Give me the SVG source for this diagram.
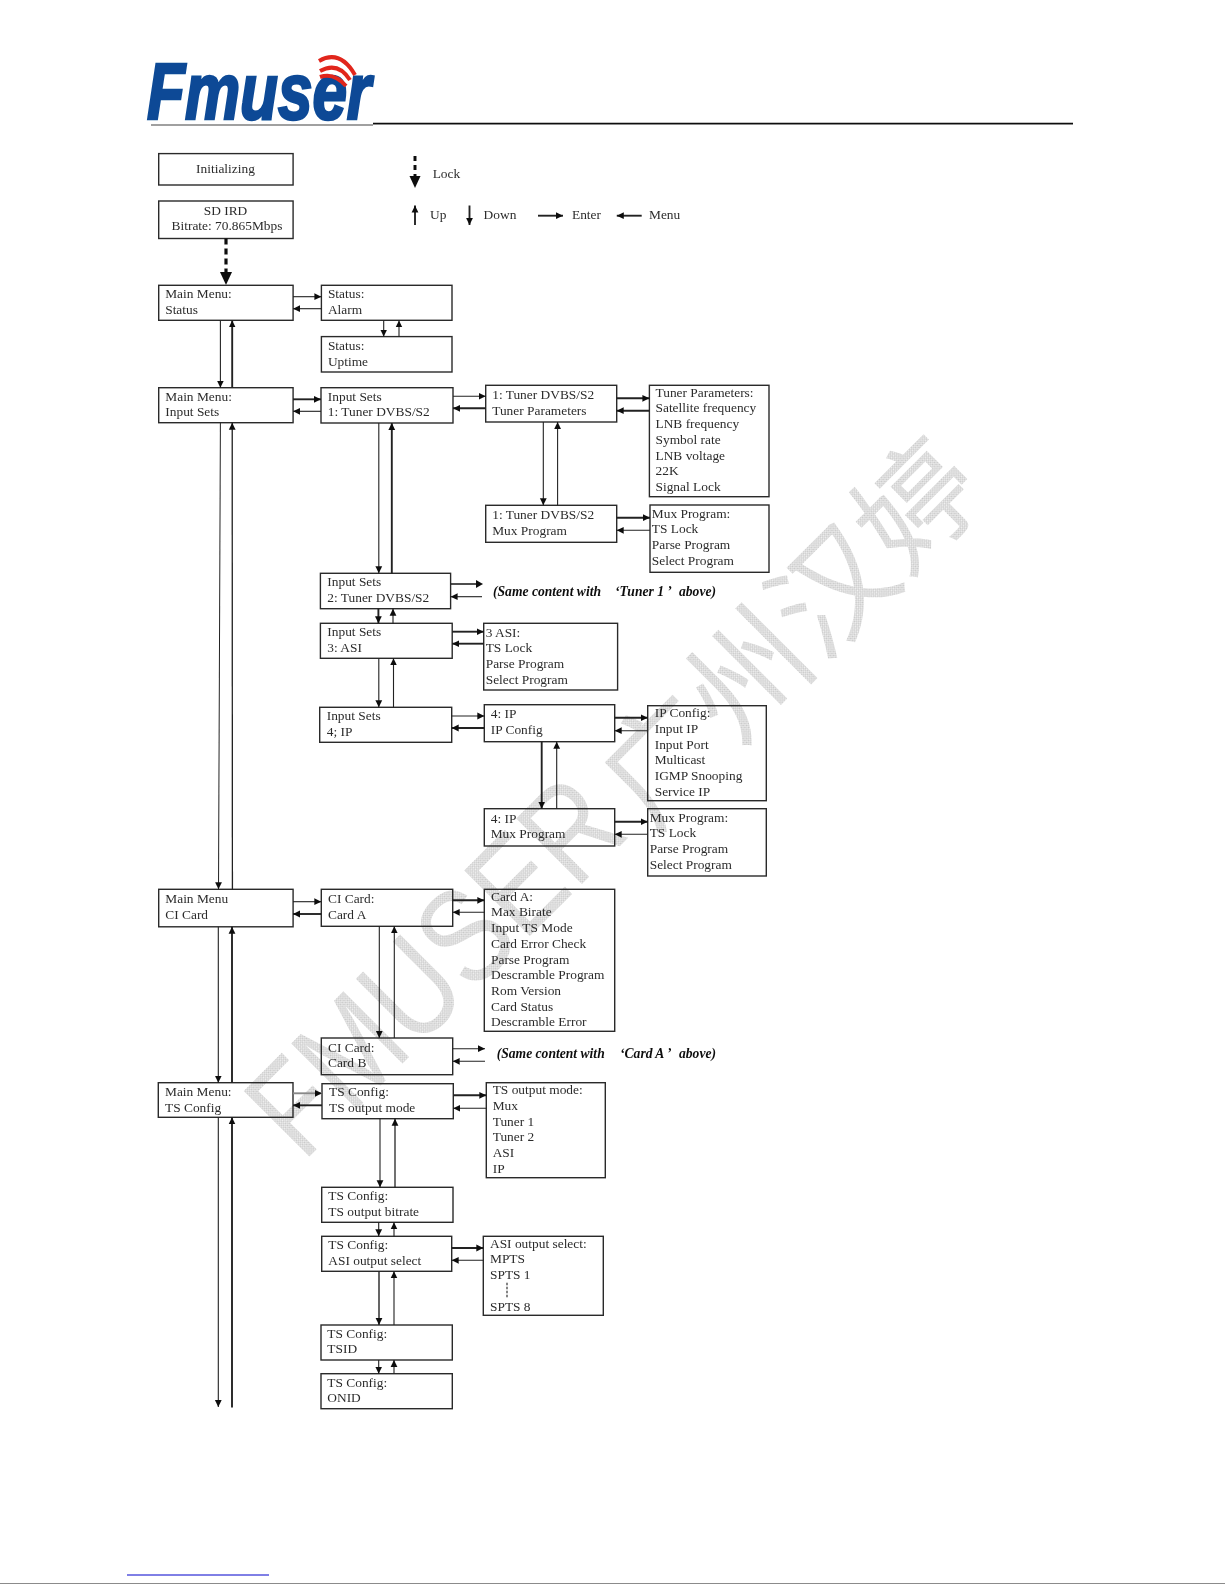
<svg xmlns="http://www.w3.org/2000/svg" width="1225" height="1585" viewBox="0 0 1225 1585">
<style>
rect.b{fill:none;stroke:#2a2a2a;stroke-width:1.4}
text{font-family:"Liberation Serif","Noto Sans CJK SC",serif;font-size:13.4px;fill:#2c2c2c}
.c{text-anchor:middle}
.n{font-style:italic;font-weight:bold;font-size:13.6px;fill:#111}
line{stroke:#222;stroke-width:1.1}
line.a{marker-end:url(#ah)}
line.k{stroke-width:1.9;marker-end:url(#ah)}
text.wm{fill:url(#hatch)}
</style>
<defs>
<marker id="ah" markerUnits="userSpaceOnUse" markerWidth="8" markerHeight="8" refX="7" refY="4" orient="auto"><path d="M0,0.6L7,4L0,7.4Z" fill="#111"/></marker>
<pattern id="hatch" width="3" height="3" patternUnits="userSpaceOnUse"><rect width="3" height="3" fill="#f2f2f2"/><rect width="1.5" height="1.5" fill="#c8c8c8"/><rect x="1.5" y="1.5" width="1.5" height="1.5" fill="#c8c8c8"/></pattern>
<filter id="soft" x="0" y="0" width="100%" height="100%"><feGaussianBlur stdDeviation="0.35"/></filter>
</defs>
<rect width="1225" height="1585" fill="#fff"/>
<g id="watermark">
<text class="wm" x="303" y="1163" textLength="465" lengthAdjust="spacingAndGlyphs" transform="rotate(-45 303 1163)" style="font-family:'Liberation Sans',sans-serif;font-size:135px">FMUSER</text>
<text class="wm" x="651" y="833" transform="rotate(-45 651 833)" style="font-family:'Noto Sans CJK SC',sans-serif;font-size:120px">广州汉婷</text>
</g>
<g id="page" filter="url(#soft)">
<g id="logo">
<text x="147" y="119" textLength="224" lengthAdjust="spacingAndGlyphs" style="font-family:'Liberation Sans',sans-serif;font-style:italic;font-weight:bold;font-size:79px;fill:#0b4a96;stroke:#0b4a96;stroke-width:2.6">Fmuser</text>
<path d="M319,61Q340,49 355,75M320,71Q338,61 350,80M320,77Q334,72 346,86" fill="none" stroke="#e1251b" stroke-width="4"/>
</g>
<g id="rules">
<line x1="151" y1="125" x2="373" y2="125" style="stroke:#444;stroke-width:1.2"/>
<line x1="373" y1="123.7" x2="1073" y2="123.7" style="stroke:#111;stroke-width:1.8"/>
<line x1="127" y1="1575" x2="269" y2="1575" style="stroke:#0000cc;stroke-width:1"/>
<line x1="0" y1="1584" x2="1225" y2="1584" style="stroke:#111;stroke-width:1"/>
</g>
<g id="legend">
<line x1="415" y1="156" x2="415" y2="176" style="stroke:#111;stroke-width:3;stroke-dasharray:5 4"/>
<path d="M409.5,176L420.5,176L415,188Z" fill="#111"/>
<text x="432.7" y="178">Lock</text>
<line class="k" x1="415" y1="225" x2="415" y2="205.5"/>
<text x="430" y="219">Up</text>
<line class="k" x1="469.5" y1="205.5" x2="469.5" y2="225"/>
<text x="483.6" y="219">Down</text>
<line class="k" x1="538" y1="215.7" x2="563" y2="215.7"/>
<text x="572" y="219">Enter</text>
<line class="k" x1="641.7" y1="215.7" x2="616.8" y2="215.7"/>
<text x="649" y="219">Menu</text>
</g>
<g id="init"><rect class="b" x="158.7" y="153.6" width="134.4" height="31.4"/><text class="c" x="225.5" y="172.7">Initializing</text></g>
<g id="sd-ird"><rect class="b" x="158.7" y="201" width="134.4" height="37.5"/><text class="c" x="225.5" y="215">SD IRD</text><text class="c" x="227" y="230">Bitrate: 70.865Mbps</text></g>
<g id="main-status"><rect class="b" x="158.7" y="285.3" width="134.4" height="35"/><text x="165.2" y="298.3">Main Menu:</text><text x="165.2" y="314">Status</text></g>
<g id="status-alarm"><rect class="b" x="321.4" y="285.3" width="130.6" height="35"/><text x="327.9" y="298.3">Status:</text><text x="327.9" y="314">Alarm</text></g>
<g id="status-uptime"><rect class="b" x="321.4" y="336.6" width="130.6" height="35.4"/><text x="327.9" y="350">Status:</text><text x="327.9" y="365.5">Uptime</text></g>
<g id="main-input"><rect class="b" x="158.7" y="387.7" width="134.4" height="35"/><text x="165.3" y="400.7">Main Menu:</text><text x="165.3" y="416.3">Input Sets</text></g>
<g id="input-1"><rect class="b" x="321" y="387.7" width="132" height="35.3"/><text x="327.8" y="400.7">Input Sets</text><text x="327.8" y="416.3">1: Tuner DVBS/S2</text></g>
<g id="tuner-params"><rect class="b" x="485.7" y="385.3" width="131" height="36.7"/><text x="492.2" y="399.3">1: Tuner DVBS/S2</text><text x="492.2" y="414.7">Tuner Parameters</text></g>
<g id="tuner-list"><rect class="b" x="649.4" y="385.3" width="119.6" height="111.4"/><text x="655.5" y="396.7">Tuner Parameters:</text><text x="655.5" y="412.4">Satellite frequency</text><text x="655.5" y="428">LNB frequency</text><text x="655.5" y="443.8">Symbol rate</text><text x="655.5" y="459.5">LNB voltage</text><text x="655.5" y="475.2">22K</text><text x="655.5" y="491">Signal Lock</text></g>
<g id="tuner-mux"><rect class="b" x="485.7" y="505.3" width="131" height="37"/><text x="492.2" y="519">1: Tuner DVBS/S2</text><text x="492.2" y="535">Mux Program</text></g>
<g id="tuner-mux-list"><rect class="b" x="650" y="505" width="119" height="67.3"/><text x="651.8" y="517.7">Mux Program:</text><text x="651.8" y="533.4">TS Lock</text><text x="651.8" y="549">Parse Program</text><text x="651.8" y="564.8">Select Program</text></g>
<g id="input-2"><rect class="b" x="320.4" y="573.3" width="130.2" height="35.4"/><text x="327.3" y="586">Input Sets</text><text x="327.3" y="601.7">2: Tuner DVBS/S2</text></g>
<g id="note-tuner"><text class="n" x="493" y="596">(Same content with<tspan x="615">‘Tuner 1 ’</tspan><tspan x="679">above)</tspan></text></g>
<g id="input-3"><rect class="b" x="320.4" y="623.3" width="131.8" height="35"/><text x="327.3" y="636">Input Sets</text><text x="327.3" y="651.7">3: ASI</text></g>
<g id="asi-list"><rect class="b" x="483.7" y="623.3" width="133.9" height="66.7"/><text x="485.7" y="636.7">3 ASI:</text><text x="485.7" y="652.4">TS Lock</text><text x="485.7" y="668">Parse Program</text><text x="485.7" y="684">Select Program</text></g>
<g id="input-4"><rect class="b" x="319.7" y="707.3" width="132" height="35"/><text x="326.7" y="720">Input Sets</text><text x="326.7" y="736">4; IP</text></g>
<g id="ip-config"><rect class="b" x="484.3" y="704.7" width="130.4" height="37"/><text x="490.7" y="718">4: IP</text><text x="490.7" y="734">IP Config</text></g>
<g id="ip-list"><rect class="b" x="647.7" y="705.7" width="118.6" height="95"/><text x="654.7" y="717.3">IP Config:</text><text x="654.7" y="733">Input IP</text><text x="654.7" y="748.7">Input Port</text><text x="654.7" y="764.4">Multicast</text><text x="654.7" y="780">IGMP Snooping</text><text x="654.7" y="795.8">Service IP</text></g>
<g id="ip-mux"><rect class="b" x="484.3" y="808.7" width="130.4" height="37.3"/><text x="490.7" y="822.7">4: IP</text><text x="490.7" y="838.3">Mux Program</text></g>
<g id="ip-mux-list"><rect class="b" x="647.7" y="808.7" width="118.6" height="67.3"/><text x="649.7" y="821.7">Mux Program:</text><text x="649.7" y="837.4">TS Lock</text><text x="649.7" y="853">Parse Program</text><text x="649.7" y="868.8">Select Program</text></g>
<g id="main-ci"><rect class="b" x="158.7" y="889.3" width="134.4" height="37.5"/><text x="165.3" y="903.3">Main Menu</text><text x="165.3" y="919">CI Card</text></g>
<g id="card-a"><rect class="b" x="321.3" y="889.3" width="131.4" height="37"/><text x="328" y="903.3">CI Card:</text><text x="328" y="919">Card A</text></g>
<g id="card-a-list"><rect class="b" x="484.3" y="889.3" width="130.4" height="142"/><text x="491" y="900.7">Card A:</text><text x="491" y="916.4">Max Birate</text><text x="491" y="932">Input TS Mode</text><text x="491" y="948">Card Error Check</text><text x="491" y="963.6">Parse Program</text><text x="491" y="979.3">Descramble Program</text><text x="491" y="995">Rom Version</text><text x="491" y="1010.6">Card Status</text><text x="491" y="1026.3">Descramble Error</text></g>
<g id="card-b"><rect class="b" x="321.3" y="1038" width="131.4" height="36.7"/><text x="328" y="1051.7">CI Card:</text><text x="328" y="1067.3">Card B</text></g>
<g id="note-card"><text class="n" x="496.7" y="1058">(Same content with<tspan x="620">‘Card A ’</tspan><tspan x="679">above)</tspan></text></g>
<g id="main-ts"><rect class="b" x="158.3" y="1082.7" width="134.7" height="34.6"/><text x="165" y="1095.7">Main Menu:</text><text x="165" y="1111.7">TS Config</text></g>
<g id="ts-mode"><rect class="b" x="322" y="1083.7" width="131.3" height="35"/><text x="329" y="1096">TS Config:</text><text x="329" y="1111.7">TS output mode</text></g>
<g id="ts-mode-list"><rect class="b" x="486.3" y="1082.7" width="119" height="95"/><text x="492.7" y="1094.3">TS output mode:</text><text x="492.7" y="1110">Mux</text><text x="492.7" y="1125.7">Tuner 1</text><text x="492.7" y="1141.4">Tuner 2</text><text x="492.7" y="1157">ASI</text><text x="492.7" y="1172.8">IP</text></g>
<g id="ts-bitrate"><rect class="b" x="321.7" y="1187.3" width="131.3" height="35"/><text x="328.3" y="1200">TS Config:</text><text x="328.3" y="1215.7">TS output bitrate</text></g>
<g id="ts-asi"><rect class="b" x="321.7" y="1236.3" width="130" height="35"/><text x="328.3" y="1249">TS Config:</text><text x="328.3" y="1265">ASI output select</text></g>
<g id="asi-out-list"><rect class="b" x="483.3" y="1236.3" width="120" height="79"/><text x="490" y="1247.7">ASI output select:</text><text x="490" y="1263.4">MPTS</text><text x="490" y="1279">SPTS 1</text><line x1="507" y1="1282.7" x2="507" y2="1298.7" style="stroke-dasharray:2.5 1.5"/><text x="490" y="1310.7">SPTS 8</text></g>
<g id="ts-tsid"><rect class="b" x="321" y="1325" width="131.3" height="35"/><text x="327.3" y="1338.3">TS Config:</text><text x="327.3" y="1353.3">TSID</text></g>
<g id="ts-onid"><rect class="b" x="321" y="1373.7" width="131.3" height="35"/><text x="327.3" y="1386.7">TS Config:</text><text x="327.3" y="1402.3">ONID</text></g>
<g id="connectors">
<line x1="226" y1="238.5" x2="226" y2="273" style="stroke:#111;stroke-width:3.2;stroke-dasharray:6 4"/>
<path d="M220,272L232,272L226,285Z" fill="#111"/>
<line class="a" x1="293" y1="296.7" x2="321.4" y2="296.7"/><line class="a" x1="321.4" y1="308.7" x2="293" y2="308.7"/>
<line class="a" x1="383.7" y1="320.4" x2="383.7" y2="336.6"/><line class="a" x1="399" y1="336.6" x2="399" y2="320.4"/>
<line class="a" x1="220.4" y1="320.4" x2="220.4" y2="387.7"/><line class="k" x1="232.2" y1="387.7" x2="232.2" y2="320.4"/>
<line class="k" x1="293" y1="399.3" x2="321" y2="399.3"/><line class="a" x1="321" y1="411.3" x2="293" y2="411.3"/>
<line class="a" x1="453" y1="396.3" x2="485.7" y2="396.3"/><line class="k" x1="485.7" y1="408.3" x2="453" y2="408.3"/>
<line class="k" x1="616.7" y1="398.3" x2="649.4" y2="398.3"/><line class="k" x1="649.4" y1="410.7" x2="616.7" y2="410.7"/>
<line class="a" x1="543.3" y1="422" x2="543.3" y2="505.3"/><line class="a" x1="557.6" y1="505.3" x2="557.6" y2="422"/>
<line class="k" x1="616.7" y1="517.7" x2="650" y2="517.7"/><line class="a" x1="650" y1="530.3" x2="616.7" y2="530.3"/>
<line class="a" x1="378.8" y1="423" x2="378.8" y2="573.3"/><line class="k" x1="391.8" y1="573.3" x2="391.8" y2="423"/>
<line x1="450.6" y1="584" x2="476" y2="584" style="stroke-width:1.6"/><path d="M476,580L483,584L476,588Z" fill="#111"/>
<line class="a" x1="482" y1="596.7" x2="450.6" y2="596.7"/>
<line class="k" x1="378.4" y1="608.7" x2="378.4" y2="623.3"/><line class="a" x1="393" y1="623.3" x2="393" y2="608.7"/>
<line class="k" x1="452.2" y1="631.7" x2="483.7" y2="631.7"/><line class="k" x1="483.7" y1="643.7" x2="452.2" y2="643.7"/>
<line class="a" x1="378.8" y1="658.3" x2="378.8" y2="707.3"/><line class="a" x1="393.5" y1="707.3" x2="393.5" y2="658.3"/>
<line class="a" x1="451.7" y1="716" x2="484.3" y2="716"/><line class="k" x1="484.3" y1="728" x2="451.7" y2="728"/>
<line class="k" x1="614.7" y1="717.7" x2="647.7" y2="717.7"/><line class="a" x1="647.7" y1="730.7" x2="614.7" y2="730.7"/>
<line class="k" x1="541.7" y1="741.7" x2="541.7" y2="808.7"/><line class="a" x1="556.7" y1="808.7" x2="556.7" y2="741.7"/>
<line class="k" x1="614.7" y1="821.7" x2="647.7" y2="821.7"/><line class="a" x1="647.7" y1="834.3" x2="614.7" y2="834.3"/>
<line class="a" x1="220.4" y1="422.7" x2="218.5" y2="889.3" style="stroke-width:1"/><line class="k" x1="232.4" y1="889.3" x2="232.2" y2="422.7" style="stroke-width:1.3"/>
<line class="a" x1="293" y1="901.7" x2="321.3" y2="901.7"/><line class="k" x1="321.3" y1="914" x2="293" y2="914"/>
<line class="k" x1="452.7" y1="900.3" x2="484.3" y2="900.3"/><line class="a" x1="484.3" y1="912.3" x2="452.7" y2="912.3"/>
<line class="a" x1="379.3" y1="926.3" x2="379.3" y2="1038"/><line class="a" x1="394.3" y1="1038" x2="394.3" y2="926.3"/>
<line class="a" x1="452.7" y1="1048.7" x2="485" y2="1048.7"/><line class="a" x1="485" y1="1061.3" x2="452.7" y2="1061.3"/>
<line class="a" x1="218.3" y1="926.8" x2="218.3" y2="1082.7"/><line class="k" x1="232" y1="1082.7" x2="232" y2="926.8"/>
<line class="k" x1="293" y1="1093.3" x2="322" y2="1093.3" style="stroke:#888"/><line class="k" x1="322" y1="1105.3" x2="293" y2="1105.3"/>
<line class="k" x1="453.3" y1="1095.3" x2="486.3" y2="1095.3"/><line class="a" x1="486.3" y1="1108.3" x2="453.3" y2="1108.3"/>
<line class="a" x1="380" y1="1118.7" x2="380" y2="1187.3"/><line class="k" x1="395" y1="1187.3" x2="395" y2="1118.7" style="stroke-width:1.3"/>
<line class="a" x1="378.7" y1="1222.3" x2="378.7" y2="1236.3"/><line class="a" x1="394" y1="1236.3" x2="394" y2="1222.3"/>
<line class="k" x1="451.7" y1="1248" x2="483.3" y2="1248"/><line class="a" x1="483.3" y1="1260.3" x2="451.7" y2="1260.3"/>
<line class="k" x1="379" y1="1271.3" x2="379" y2="1325" style="stroke-width:1.4"/><line class="a" x1="394" y1="1325" x2="394" y2="1271.3"/>
<line class="a" x1="378.7" y1="1360" x2="378.7" y2="1373.7"/><line class="a" x1="394" y1="1373.7" x2="394" y2="1360"/>
<line class="a" x1="218.3" y1="1117.3" x2="218.3" y2="1407"/><line class="k" x1="232" y1="1407.5" x2="232" y2="1117.3"/>
</g>
</g>
</svg>
